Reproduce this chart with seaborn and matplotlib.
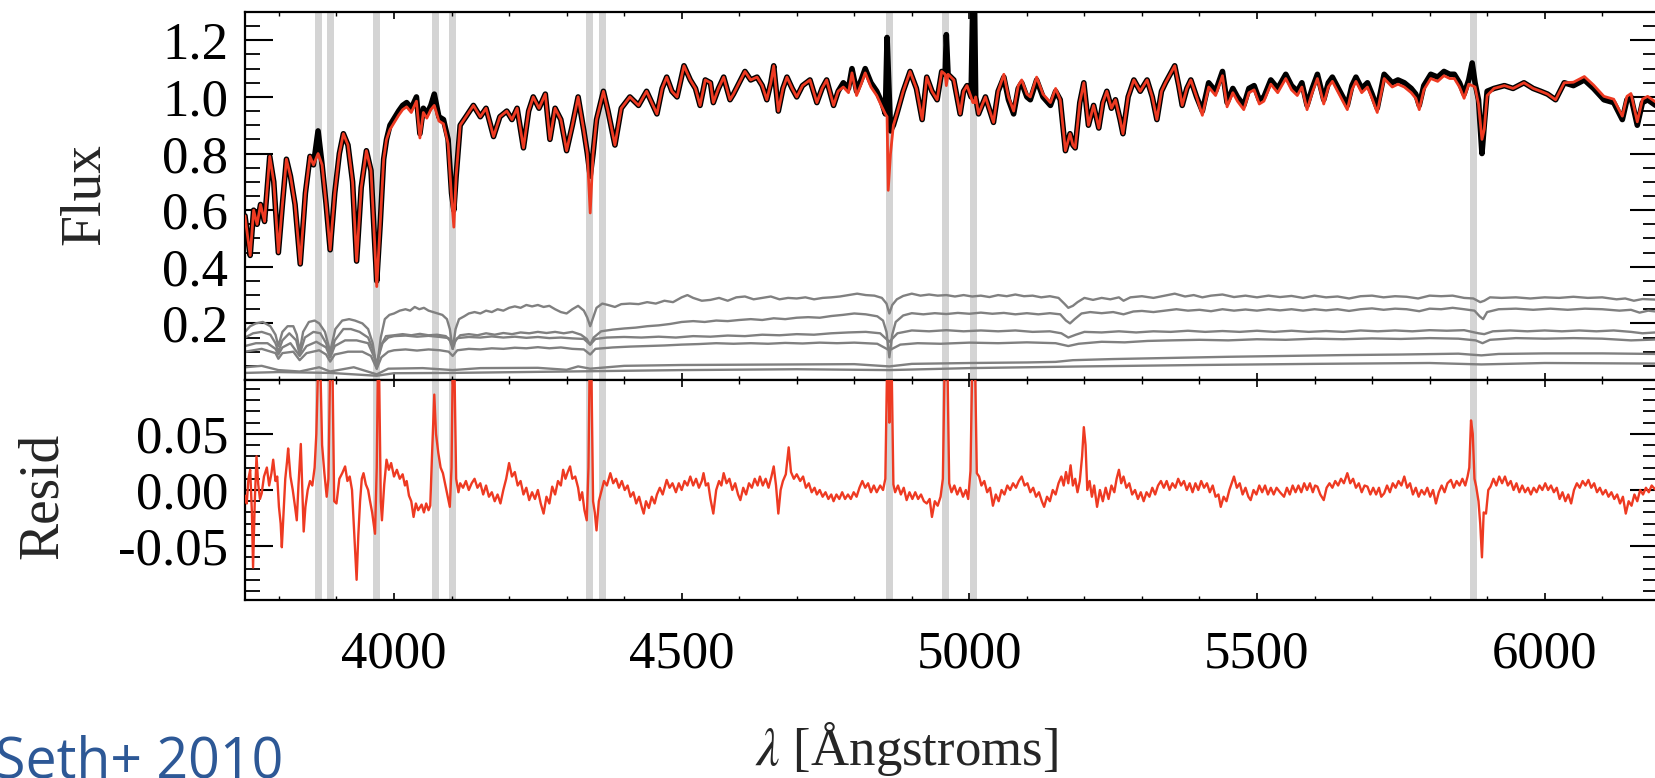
import numpy as np
import pandas as pd
import matplotlib
matplotlib.use("Agg")
import matplotlib.pyplot as plt
import seaborn as sns
from matplotlib.ticker import MultipleLocator, FixedLocator, FuncFormatter

sns.set_theme(style="white")
plt.rcParams['font.family'] = ['Liberation Serif', 'DejaVu Serif']
plt.rcParams['mathtext.fontset'] = 'stix'

# ---------------- data ----------------
# observed spectrum (black)
data_wl = [3741, 3746, 3750, 3756, 3762, 3768, 3775, 3784, 3791, 3799, 3806, 3813, 3820, 3828,
           3837, 3846, 3854, 3860, 3868, 3875, 3882, 3889, 3897, 3905, 3912, 3920, 3928, 3935,
           3943, 3952, 3960, 3966, 3970, 3976, 3982, 3987, 3993, 3999, 4008, 4015, 4022, 4030,
           4039, 4045, 4051, 4057, 4064, 4070, 4078, 4086, 4094, 4100, 4104, 4108, 4115, 4125,
           4138, 4150, 4160, 4173, 4184, 4196, 4205, 4214, 4225, 4234, 4242, 4252, 4263, 4271,
           4280, 4290, 4300, 4310, 4320, 4330, 4336, 4341, 4346, 4352, 4364, 4372, 4384, 4395,
           4410, 4425, 4439, 4448, 4457, 4466, 4474, 4483, 4492, 4504, 4515, 4524, 4532, 4541,
           4550, 4555, 4564, 4573, 4584, 4590, 4600, 4610, 4620, 4631, 4640, 4648, 4655, 4660,
           4668, 4676, 4683, 4692, 4700, 4710, 4723, 4735, 4744, 4752, 4764, 4772, 4781, 4790,
           4796, 4804, 4812, 4819, 4829, 4839, 4848, 4854, 4857, 4859, 4863, 4868, 4874, 4885,
           4897, 4908, 4918, 4926, 4935, 4944, 4952, 4958, 4960, 4963, 4973, 4984, 4990, 4996,
           5003, 5006, 5009, 5011, 5016, 5028, 5042, 5050, 5060, 5068, 5077, 5085, 5091, 5100,
           5106, 5117, 5128, 5141, 5150, 5158, 5167, 5175, 5180, 5184, 5192, 5199, 5207, 5216,
           5225, 5232, 5239, 5247, 5254, 5262, 5267, 5276, 5286, 5297, 5309, 5318, 5326, 5334,
           5341, 5357, 5364, 5370, 5378, 5385, 5395, 5405, 5416, 5428, 5440, 5448, 5458, 5466,
           5477, 5486, 5495, 5504, 5512, 5524, 5536, 5550, 5560, 5570, 5578, 5587, 5596, 5605,
           5616, 5624, 5631, 5644, 5657, 5665, 5672, 5682, 5692, 5700, 5709, 5721, 5735, 5745,
           5756, 5768, 5776, 5782, 5790, 5802, 5814, 5825, 5835, 5843, 5852, 5860, 5868, 5874,
           5879, 5885, 5891, 5895, 5900, 5912, 5930, 5945, 5964, 5980, 5993, 6005, 6019, 6034,
           6050, 6069, 6085, 6103, 6120, 6135, 6143, 6150, 6161, 6170, 6179, 6193]
data_flux = [0.58, 0.50, 0.44, 0.60, 0.55, 0.62, 0.56, 0.79, 0.70, 0.45, 0.62, 0.78, 0.72, 0.62,
             0.41, 0.66, 0.79, 0.76, 0.88, 0.76, 0.62, 0.46, 0.66, 0.80, 0.87, 0.83, 0.70, 0.42,
             0.68, 0.81, 0.74, 0.50, 0.35, 0.55, 0.78, 0.85, 0.90, 0.92, 0.95, 0.97, 0.98, 0.96,
             1.00, 0.87, 0.96, 0.94, 0.97, 1.01, 0.93, 0.92, 0.85, 0.66, 0.60, 0.72, 0.90, 0.93,
             0.97, 0.93, 0.96, 0.86, 0.93, 0.95, 0.92, 0.96, 0.82, 0.95, 1.00, 0.96, 1.01, 0.85,
             0.96, 0.92, 0.81, 0.90, 1.00, 0.88, 0.80, 0.72, 0.80, 0.92, 1.02, 0.95, 0.83, 0.96,
             1.00, 0.97, 1.02, 0.98, 0.94, 1.03, 1.07, 1.02, 1.00, 1.11, 1.06, 1.03, 0.97, 1.06,
             1.05, 0.98, 1.03, 1.07, 0.99, 1.01, 1.05, 1.09, 1.06, 1.07, 1.04, 0.99, 1.05, 1.11,
             0.95, 1.03, 1.07, 1.03, 1.00, 1.04, 1.06, 0.98, 1.03, 1.06, 0.97, 1.02, 1.05, 1.03,
             1.10, 1.02, 1.06, 1.10, 1.05, 1.02, 0.98, 0.94, 1.21, 1.10, 0.88, 0.90, 0.94, 1.02,
             1.09, 1.03, 0.92, 1.07, 1.02, 0.99, 1.09, 1.08, 1.22, 1.08, 1.06, 0.94, 1.02, 1.04,
             1.00, 1.34, 1.34, 1.00, 0.94, 1.00, 0.91, 1.02, 1.07, 0.99, 0.94, 1.03, 1.05, 1.00,
             0.99, 1.06, 1.00, 0.97, 1.02, 0.99, 0.81, 0.87, 0.83, 0.82, 0.98, 1.05, 0.90, 0.97,
             0.89, 0.98, 1.02, 0.96, 0.99, 0.92, 0.87, 1.00, 1.06, 1.02, 1.06, 1.00, 0.92, 1.02,
             1.05, 1.11, 1.04, 0.97, 1.03, 1.06, 1.00, 0.95, 1.05, 1.02, 1.09, 0.98, 1.03, 1.00,
             0.97, 1.03, 1.04, 0.99, 1.00, 1.06, 1.03, 1.08, 1.04, 1.02, 1.05, 0.97, 1.03, 1.08,
             0.99, 1.05, 1.07, 1.02, 0.97, 1.04, 1.07, 1.03, 1.05, 1.01, 0.96, 1.08, 1.05, 1.06,
             1.05, 1.03, 1.01, 0.97, 1.04, 1.08, 1.07, 1.09, 1.08, 1.08, 1.05, 1.01, 1.06, 1.12,
             1.05, 0.99, 0.80, 0.90, 1.02, 1.03, 1.04, 1.03, 1.05, 1.03, 1.02, 1.01, 0.99, 1.05,
             1.04, 1.06, 1.03, 0.99, 0.98, 0.92, 0.99, 1.00, 0.90, 0.98, 0.99, 0.97]

# best-fit model (red): same as data except where the picture shows them apart
model_diff_wl = [3868, 3970, 4070, 4104, 4341, 4857, 4859, 4863, 4960, 5006, 5009, 5874, 5891]
model_diff_flux = [0.80, 0.33, 0.97, 0.54, 0.59, 0.93, 0.67, 0.80, 1.04, 0.98, 0.98, 1.04, 0.85]
# stretches where the red model sits visibly below (-) or above (+) the black data
model_offset_start = [3990, 4780, 5060, 5400, 6040]
model_offset_end = [4100, 4850, 5150, 5900, 6193]
model_offset_value = [-0.015, -0.015, 0.010, -0.015, 0.012]

# template components (grey)
comp1_wl = [3741, 3750, 3760, 3772, 3785, 3794, 3799, 3806, 3815, 3825, 3831, 3836, 3842, 3852,
            3862, 3870, 3880, 3889, 3898, 3910, 3922, 3932, 3945, 3955, 3963, 3970, 3977, 3984,
            3992, 4000, 4010, 4020, 4028, 4036, 4044, 4052, 4060, 4068, 4076, 4084, 4092, 4097,
            4102, 4107, 4113, 4122, 4130, 4140, 4150, 4160, 4170, 4180, 4190, 4200, 4210, 4220,
            4230, 4240, 4250, 4260, 4270, 4280, 4290, 4300, 4310, 4320, 4330, 4336, 4341, 4346,
            4352, 4362, 4372, 4384, 4395, 4410, 4425, 4440, 4455, 4470, 4485, 4500, 4510, 4520,
            4535, 4550, 4565, 4580, 4595, 4610, 4625, 4640, 4655, 4670, 4685, 4700, 4715, 4730,
            4745, 4760, 4775, 4790, 4805, 4820, 4835, 4848, 4856, 4861, 4866, 4874, 4885, 4900,
            4915, 4930, 4945, 4960, 4975, 4990, 5005, 5020, 5035, 5050, 5065, 5080, 5095, 5110,
            5125, 5140, 5155, 5165, 5172, 5180, 5188, 5200, 5215, 5230, 5245, 5260, 5268, 5280,
            5300, 5320, 5340, 5357, 5375, 5390, 5405, 5420, 5440, 5460, 5480, 5500, 5520, 5540,
            5560, 5580, 5600, 5620, 5640, 5660, 5680, 5700, 5720, 5740, 5760, 5780, 5800, 5820,
            5840, 5860, 5876, 5888, 5895, 5905, 5925, 5950, 5975, 6000, 6025, 6050, 6075, 6100,
            6125, 6140, 6155, 6170, 6193]
comp1_flux = [0.17, 0.19, 0.20, 0.205, 0.19, 0.16, 0.12, 0.17, 0.19, 0.19, 0.16, 0.10, 0.17, 0.205,
              0.21, 0.20, 0.17, 0.10, 0.18, 0.21, 0.215, 0.21, 0.20, 0.18, 0.13, 0.04, 0.15, 0.215,
              0.23, 0.235, 0.245, 0.25, 0.245, 0.258, 0.25, 0.255, 0.245, 0.24, 0.235, 0.23, 0.215, 0.18,
              0.11, 0.18, 0.215, 0.225, 0.235, 0.24, 0.235, 0.245, 0.24, 0.25, 0.245, 0.255, 0.26, 0.255,
              0.265, 0.26, 0.265, 0.258, 0.262, 0.25, 0.24, 0.235, 0.25, 0.262, 0.245, 0.22, 0.19, 0.22,
              0.255, 0.27, 0.265, 0.258, 0.268, 0.27, 0.268, 0.275, 0.27, 0.28, 0.275, 0.292, 0.30, 0.29,
              0.28, 0.283, 0.29, 0.28, 0.292, 0.295, 0.285, 0.29, 0.295, 0.285, 0.29, 0.288, 0.292, 0.285,
              0.29, 0.292, 0.295, 0.30, 0.305, 0.30, 0.298, 0.29, 0.27, 0.235, 0.265, 0.285, 0.297, 0.305,
              0.298, 0.302, 0.298, 0.30, 0.295, 0.30, 0.295, 0.298, 0.293, 0.30, 0.296, 0.302, 0.296, 0.298,
              0.292, 0.296, 0.29, 0.27, 0.255, 0.262, 0.275, 0.29, 0.283, 0.29, 0.285, 0.292, 0.28, 0.292,
              0.296, 0.29, 0.298, 0.305, 0.295, 0.30, 0.292, 0.298, 0.302, 0.293, 0.298, 0.292, 0.298, 0.293,
              0.297, 0.29, 0.298, 0.292, 0.295, 0.288, 0.296, 0.298, 0.292, 0.296, 0.294, 0.288, 0.298, 0.296,
              0.298, 0.29, 0.288, 0.275, 0.28, 0.292, 0.29, 0.292, 0.288, 0.292, 0.29, 0.294, 0.29, 0.292,
              0.285, 0.288, 0.28, 0.286, 0.284]
comp2_wl = [3741, 3755, 3770, 3785, 3794, 3799, 3806, 3818, 3830, 3836, 3845, 3860, 3872, 3882,
            3889, 3897, 3912, 3925, 3940, 3955, 3963, 3970, 3977, 3986, 4000, 4015, 4030, 4045,
            4060, 4075, 4090, 4097, 4102, 4107, 4115, 4130, 4145, 4160, 4175, 4190, 4205, 4220,
            4235, 4250, 4265, 4280, 4295, 4310, 4325, 4335, 4341, 4347, 4360, 4380, 4400, 4420,
            4440, 4460, 4480, 4500, 4520, 4540, 4560, 4580, 4600, 4620, 4640, 4660, 4680, 4700,
            4720, 4740, 4760, 4780, 4800, 4820, 4840, 4850, 4856, 4861, 4866, 4872, 4885, 4900,
            4920, 4940, 4960, 4980, 5000, 5020, 5040, 5060, 5080, 5100, 5120, 5140, 5158, 5168,
            5175, 5183, 5195, 5210, 5230, 5250, 5268, 5285, 5300, 5320, 5340, 5360, 5380, 5400,
            5420, 5440, 5460, 5480, 5500, 5520, 5540, 5560, 5580, 5600, 5620, 5640, 5660, 5680,
            5700, 5720, 5740, 5760, 5782, 5800, 5820, 5840, 5860, 5878, 5887, 5893, 5900, 5920,
            5950, 5980, 6010, 6040, 6070, 6100, 6130, 6150, 6165, 6180, 6193]
comp2_flux = [0.15, 0.165, 0.17, 0.16, 0.13, 0.10, 0.14, 0.165, 0.14, 0.09, 0.15, 0.17, 0.165, 0.13,
              0.08, 0.14, 0.18, 0.18, 0.17, 0.15, 0.11, 0.05, 0.12, 0.155, 0.158, 0.162, 0.158, 0.163,
              0.158, 0.16, 0.155, 0.14, 0.11, 0.14, 0.158, 0.162, 0.158, 0.165, 0.16, 0.166, 0.162, 0.168,
              0.165, 0.17, 0.166, 0.17, 0.165, 0.17, 0.16, 0.145, 0.125, 0.15, 0.172, 0.178, 0.182, 0.185,
              0.19, 0.193, 0.198, 0.205, 0.208, 0.205, 0.21, 0.208, 0.212, 0.215, 0.212, 0.218, 0.215, 0.22,
              0.222, 0.22, 0.226, 0.23, 0.235, 0.232, 0.225, 0.21, 0.17, 0.08, 0.16, 0.205, 0.228, 0.236,
              0.232, 0.236, 0.233, 0.237, 0.234, 0.238, 0.234, 0.237, 0.232, 0.236, 0.232, 0.236, 0.232, 0.21,
              0.20, 0.215, 0.235, 0.24, 0.236, 0.24, 0.232, 0.242, 0.244, 0.24, 0.245, 0.25, 0.245, 0.248,
              0.243, 0.25, 0.245, 0.249, 0.245, 0.25, 0.246, 0.25, 0.245, 0.25, 0.246, 0.25, 0.244, 0.25,
              0.253, 0.248, 0.252, 0.25, 0.243, 0.252, 0.25, 0.255, 0.25, 0.245, 0.225, 0.215, 0.24, 0.25,
              0.252, 0.248, 0.252, 0.248, 0.252, 0.25, 0.245, 0.248, 0.238, 0.245, 0.242]
comp3_wl = [3741, 3760, 3780, 3794, 3799, 3806, 3820, 3836, 3848, 3865, 3882, 3889, 3897, 3915,
            3935, 3955, 3970, 3980, 3990, 4000, 4020, 4040, 4060, 4080, 4095, 4102, 4110, 4130,
            4150, 4170, 4190, 4210, 4230, 4250, 4270, 4290, 4310, 4330, 4341, 4350, 4370, 4400,
            4430, 4460, 4490, 4520, 4550, 4580, 4610, 4640, 4670, 4700, 4730, 4760, 4790, 4820,
            4845, 4861, 4875, 4900, 4930, 4960, 4990, 5020, 5050, 5080, 5110, 5140, 5160, 5172,
            5185, 5200, 5230, 5260, 5290, 5320, 5350, 5380, 5410, 5440, 5470, 5500, 5530, 5560,
            5590, 5620, 5650, 5680, 5710, 5740, 5770, 5800, 5830, 5860, 5885, 5895, 5910, 5940,
            5970, 6000, 6030, 6060, 6090, 6120, 6150, 6170, 6193]
comp3_flux = [0.12, 0.13, 0.13, 0.11, 0.09, 0.115, 0.13, 0.085, 0.12, 0.135, 0.115, 0.08, 0.12, 0.14,
              0.14, 0.13, 0.06, 0.13, 0.15, 0.155, 0.157, 0.153, 0.156, 0.152, 0.148, 0.125, 0.148, 0.152,
              0.15, 0.154, 0.15, 0.153, 0.149, 0.152, 0.148, 0.15, 0.147, 0.145, 0.125, 0.145, 0.15, 0.152,
              0.15, 0.153, 0.15, 0.155, 0.153, 0.157, 0.155, 0.16, 0.158, 0.162, 0.16, 0.165, 0.168, 0.17,
              0.165, 0.135, 0.165, 0.175, 0.172, 0.176, 0.172, 0.175, 0.172, 0.175, 0.17, 0.172, 0.165, 0.15,
              0.16, 0.17, 0.168, 0.172, 0.168, 0.172, 0.17, 0.174, 0.17, 0.173, 0.17, 0.174, 0.17, 0.174,
              0.17, 0.173, 0.17, 0.175, 0.172, 0.175, 0.172, 0.176, 0.174, 0.176, 0.165, 0.162, 0.172, 0.175,
              0.172, 0.175, 0.172, 0.175, 0.172, 0.175, 0.17, 0.165, 0.168]
comp4_wl = [3741, 3770, 3794, 3799, 3806, 3825, 3836, 3848, 3870, 3882, 3889, 3897, 3920, 3945,
            3960, 3970, 3978, 3990, 4000, 4020, 4040, 4060, 4080, 4095, 4102, 4110, 4130, 4150,
            4170, 4190, 4210, 4230, 4250, 4270, 4290, 4310, 4330, 4341, 4350, 4380, 4410, 4440,
            4470, 4500, 4530, 4560, 4590, 4620, 4650, 4680, 4710, 4740, 4770, 4800, 4840, 4861,
            4880, 4910, 4950, 5000, 5050, 5100, 5150, 5172, 5190, 5230, 5270, 5310, 5350, 5400,
            5450, 5500, 5550, 5600, 5650, 5700, 5750, 5800, 5850, 5880, 5892, 5905, 5950, 6000,
            6050, 6100, 6150, 6193]
comp4_flux = [0.10, 0.11, 0.095, 0.075, 0.095, 0.10, 0.07, 0.095, 0.105, 0.09, 0.065, 0.09, 0.10, 0.10,
              0.085, 0.04, 0.08, 0.10, 0.105, 0.108, 0.104, 0.108, 0.105, 0.10, 0.085, 0.105, 0.11, 0.108,
              0.112, 0.11, 0.114, 0.112, 0.116, 0.112, 0.115, 0.11, 0.108, 0.09, 0.11, 0.115, 0.118, 0.12,
              0.122, 0.125, 0.127, 0.13, 0.128, 0.13, 0.128, 0.131, 0.129, 0.132, 0.13, 0.132, 0.128, 0.105,
              0.125, 0.13, 0.128, 0.132, 0.13, 0.133, 0.13, 0.12, 0.128, 0.135, 0.133, 0.138, 0.14, 0.142,
              0.14, 0.144, 0.142, 0.146, 0.144, 0.147, 0.145, 0.148, 0.146, 0.14, 0.13, 0.142, 0.148, 0.146,
              0.148, 0.146, 0.14, 0.143]
comp5_wl = [3741, 3770, 3799, 3836, 3870, 3889, 3930, 3970, 3990, 4050, 4102, 4150, 4250, 4300,
            4320, 4341, 4400, 4500, 4600, 4700, 4800, 4861, 4900, 5000, 5100, 5150, 5180, 5250,
            5350, 5450, 5550, 5650, 5750, 5850, 5890, 5920, 6000, 6100, 6193]
comp5_flux = [0.045, 0.05, 0.035, 0.03, 0.045, 0.03, 0.045, 0.02, 0.04, 0.042, 0.035, 0.042, 0.043, 0.036,
              0.048, 0.04, 0.05, 0.053, 0.054, 0.055, 0.056, 0.048, 0.057, 0.06, 0.062, 0.064, 0.07, 0.074,
              0.078, 0.082, 0.085, 0.088, 0.09, 0.093, 0.087, 0.092, 0.094, 0.094, 0.092]
comp6_wl = [3741, 3800, 3889, 3970, 4000, 4100, 4300, 4500, 4700, 4861, 5000, 5200, 5400, 5600,
            5800, 5890, 6000, 6193]
comp6_flux = [0.025, 0.028, 0.025, 0.015, 0.024, 0.025, 0.03, 0.035, 0.038, 0.035, 0.042, 0.048, 0.053, 0.057,
              0.06, 0.055, 0.06, 0.058]

# residuals (red, lower panel) as (wavelength, residual) pairs
resid_pts = [
    (3741, -0.005), (3744, -0.012), (3747, 0.010), (3750, 0.018), (3753, -0.020), (3755, -0.069),
    (3758, -0.010), (3761, 0.030), (3764, 0.005), (3767, -0.008), (3770, -0.003), (3774, 0.012),
    (3779, 0.020), (3783, 0.004), (3787, 0.015), (3790, 0.027), (3794, 0.008), (3797, 0.012),
    (3800, -0.015), (3803, -0.030), (3805, -0.051), (3808, -0.020), (3811, 0.010), (3814, 0.025),
    (3816, 0.037), (3820, 0.012), (3824, 0.000), (3828, -0.015), (3831, -0.027), (3834, 0.005),
    (3838, 0.041), (3840, 0.010), (3843, -0.037), (3846, -0.015), (3850, 0.000), (3854, 0.008),
    (3858, 0.004), (3862, 0.020), (3865, 0.050), (3868, 0.110), (3872, 0.110), (3875, 0.040),
    (3879, 0.015), (3883, -0.006), (3886, 0.010), (3889, 0.110), (3893, 0.110), (3896, -0.010),
    (3900, -0.012), (3905, 0.010), (3910, 0.015), (3915, 0.021), (3919, 0.008), (3923, 0.012),
    (3927, 0.000), (3930, -0.030), (3933, -0.060), (3935, -0.080), (3938, -0.040), (3941, -0.010),
    (3944, 0.010), (3947, 0.015), (3951, 0.005), (3955, 0.000), (3958, -0.009), (3962, -0.020),
    (3967, -0.039), (3970, 0.020), (3972, 0.110), (3974, 0.110), (3977, -0.010), (3979, -0.027),
    (3983, 0.005), (3987, 0.027), (3991, 0.018), (3995, 0.024), (4000, 0.012), (4005, 0.018),
    (4010, 0.010), (4015, 0.014), (4019, 0.004), (4022, 0.008), (4026, -0.005), (4030, -0.010),
    (4034, -0.024), (4038, -0.012), (4042, -0.018), (4048, -0.013), (4052, -0.020), (4056, -0.012),
    (4060, -0.018), (4063, -0.014), (4066, 0.030), (4070, 0.085), (4073, 0.050), (4077, 0.033),
    (4081, 0.020), (4085, 0.015), (4089, 0.005), (4093, -0.005), (4097, -0.015), (4100, 0.020),
    (4102, 0.110), (4105, 0.110), (4108, 0.010), (4112, -0.002), (4115, 0.006), (4120, 0.002),
    (4125, 0.008), (4130, 0.000), (4135, 0.006), (4140, 0.010), (4145, 0.002), (4150, 0.006),
    (4155, -0.004), (4160, 0.004), (4165, -0.006), (4170, -0.002), (4175, -0.010), (4180, -0.004),
    (4185, -0.012), (4190, 0.000), (4195, 0.010), (4200, 0.024), (4205, 0.012), (4210, 0.016),
    (4215, 0.004), (4220, 0.008), (4225, -0.004), (4230, 0.002), (4235, -0.009), (4240, -0.002),
    (4245, -0.008), (4250, 0.000), (4255, -0.012), (4260, -0.021), (4265, -0.006), (4270, -0.012),
    (4275, 0.003), (4280, -0.004), (4285, 0.008), (4290, 0.004), (4294, 0.018), (4298, 0.010),
    (4302, 0.016), (4306, 0.021), (4310, 0.010), (4315, 0.012), (4320, 0.002), (4323, -0.009),
    (4327, -0.002), (4331, -0.018), (4335, -0.027), (4338, 0.020), (4340, 0.110), (4343, 0.110),
    (4346, -0.010), (4349, -0.020), (4352, -0.036), (4356, -0.010), (4360, -0.002), (4365, 0.008),
    (4370, 0.004), (4376, 0.015), (4381, 0.006), (4386, 0.010), (4391, 0.002), (4396, 0.008),
    (4401, 0.000), (4406, 0.004), (4411, -0.006), (4416, -0.002), (4421, -0.012), (4426, -0.006),
    (4431, -0.016), (4434, -0.021), (4438, -0.010), (4443, -0.016), (4448, -0.006), (4453, -0.012),
    (4457, -0.004), (4462, 0.002), (4467, -0.004), (4474, 0.009), (4479, 0.002), (4484, 0.006),
    (4490, -0.002), (4495, 0.006), (4500, 0.000), (4505, 0.008), (4510, 0.004), (4515, 0.012),
    (4520, 0.004), (4525, 0.010), (4530, 0.002), (4535, 0.008), (4538, 0.015), (4542, 0.004),
    (4546, 0.006), (4550, -0.008), (4555, -0.021), (4560, 0.000), (4565, 0.008), (4569, 0.004),
    (4573, 0.015), (4578, 0.006), (4583, 0.010), (4588, 0.000), (4593, 0.006), (4598, -0.004),
    (4602, -0.009), (4607, 0.002), (4612, -0.004), (4617, 0.006), (4622, 0.002), (4627, 0.010),
    (4632, 0.004), (4636, 0.012), (4641, 0.004), (4646, 0.010), (4651, 0.002), (4656, 0.012),
    (4660, 0.021), (4664, 0.004), (4668, -0.021), (4672, 0.000), (4676, 0.008), (4681, 0.014),
    (4686, 0.038), (4690, 0.016), (4695, 0.010), (4700, 0.014), (4706, 0.008), (4711, 0.012),
    (4716, 0.002), (4721, 0.006), (4726, -0.002), (4731, 0.002), (4735, -0.004), (4740, 0.000),
    (4745, -0.006), (4750, -0.002), (4755, -0.008), (4760, -0.004), (4764, -0.010), (4769, -0.004),
    (4774, -0.008), (4779, -0.002), (4784, -0.008), (4789, -0.004), (4794, -0.008), (4799, -0.002),
    (4804, -0.006), (4809, 0.002), (4814, 0.008), (4819, 0.002), (4824, 0.006), (4829, -0.002),
    (4834, 0.004), (4839, -0.002), (4845, 0.004), (4850, 0.000), (4854, 0.010), (4857, 0.110),
    (4859, 0.110), (4861, 0.060), (4863, 0.110), (4865, 0.110), (4868, 0.005), (4871, -0.002),
    (4876, 0.004), (4881, -0.004), (4886, 0.002), (4891, -0.009), (4896, -0.002), (4901, -0.008),
    (4906, -0.002), (4911, -0.008), (4916, -0.004), (4921, -0.010), (4926, -0.012), (4931, -0.008),
    (4935, -0.024), (4940, -0.010), (4945, -0.014), (4950, -0.006), (4954, 0.010), (4957, 0.110),
    (4962, 0.110), (4965, 0.006), (4969, -0.002), (4974, 0.004), (4979, -0.004), (4984, 0.002),
    (4989, -0.006), (4994, 0.000), (4998, -0.008), (5002, 0.017), (5005, 0.110), (5010, 0.110),
    (5013, 0.015), (5017, 0.012), (5021, 0.004), (5026, 0.008), (5031, -0.002), (5036, 0.002),
    (5041, -0.014), (5046, -0.004), (5051, -0.010), (5056, 0.000), (5061, -0.004), (5066, 0.004),
    (5071, 0.000), (5076, 0.006), (5081, 0.002), (5086, 0.008), (5091, 0.012), (5096, 0.004),
    (5101, 0.006), (5106, -0.002), (5111, 0.002), (5116, -0.006), (5121, -0.002), (5126, -0.010),
    (5130, -0.015), (5135, -0.006), (5140, -0.010), (5145, 0.000), (5150, -0.004), (5155, 0.006),
    (5160, 0.012), (5164, 0.004), (5168, 0.016), (5172, 0.006), (5176, 0.022), (5180, 0.004),
    (5184, 0.010), (5188, -0.002), (5192, 0.008), (5196, 0.030), (5199, 0.056), (5202, 0.040),
    (5205, 0.000), (5209, 0.008), (5213, -0.006), (5217, 0.004), (5222, -0.015), (5227, 0.000),
    (5232, -0.010), (5237, 0.002), (5242, -0.008), (5247, 0.004), (5252, -0.002), (5256, 0.010),
    (5260, 0.018), (5264, 0.006), (5268, 0.012), (5273, 0.002), (5278, 0.006), (5283, -0.004),
    (5288, 0.000), (5293, -0.008), (5298, -0.002), (5303, -0.010), (5308, -0.002), (5313, -0.006),
    (5318, 0.002), (5323, -0.004), (5328, 0.004), (5333, 0.008), (5338, 0.002), (5343, 0.008),
    (5348, 0.000), (5353, 0.006), (5358, 0.002), (5363, 0.010), (5368, 0.004), (5373, 0.008),
    (5378, 0.000), (5383, 0.006), (5388, -0.002), (5393, 0.006), (5398, 0.000), (5403, 0.008),
    (5408, 0.002), (5413, 0.006), (5418, -0.002), (5423, 0.004), (5428, -0.006), (5433, -0.004),
    (5437, -0.015), (5442, -0.006), (5447, -0.010), (5452, 0.000), (5456, 0.006), (5460, 0.012),
    (5465, 0.002), (5470, 0.006), (5475, -0.004), (5480, 0.002), (5485, -0.006), (5489, -0.009),
    (5494, 0.000), (5499, -0.004), (5504, 0.004), (5509, -0.002), (5514, 0.004), (5519, -0.004),
    (5524, 0.002), (5529, -0.004), (5534, 0.002), (5540, -0.002), (5547, -0.006), (5552, 0.002),
    (5557, -0.004), (5562, 0.004), (5567, -0.002), (5572, 0.004), (5577, -0.002), (5582, 0.006),
    (5587, 0.000), (5592, 0.006), (5597, -0.002), (5601, 0.004), (5605, 0.003), (5610, -0.004),
    (5616, -0.009), (5621, 0.002), (5626, 0.006), (5631, 0.002), (5636, 0.008), (5641, 0.004),
    (5646, 0.010), (5651, 0.006), (5657, 0.015), (5662, 0.006), (5667, 0.010), (5672, 0.002),
    (5677, 0.006), (5682, -0.002), (5687, 0.004), (5692, 0.003), (5697, -0.004), (5702, 0.002),
    (5707, -0.004), (5712, 0.002), (5716, -0.006), (5721, -0.003), (5726, 0.004), (5731, -0.002),
    (5736, 0.006), (5741, 0.002), (5746, 0.008), (5751, 0.004), (5756, 0.012), (5761, 0.002),
    (5766, 0.006), (5771, -0.004), (5776, 0.002), (5781, -0.006), (5786, 0.000), (5791, -0.004),
    (5796, 0.002), (5801, -0.006), (5806, 0.000), (5811, -0.012), (5816, -0.002), (5821, 0.004),
    (5826, -0.002), (5831, 0.006), (5837, 0.009), (5842, 0.002), (5847, 0.008), (5852, 0.004),
    (5857, 0.010), (5862, 0.004), (5866, 0.012), (5869, 0.020), (5872, 0.062), (5875, 0.050),
    (5878, 0.010), (5881, 0.003), (5885, -0.010), (5888, -0.030), (5891, -0.060), (5894, -0.020),
    (5898, -0.021), (5902, 0.000), (5906, 0.003), (5911, 0.010), (5916, 0.004), (5921, 0.012),
    (5926, 0.006), (5931, 0.012), (5936, 0.004), (5941, 0.008), (5946, 0.000), (5951, 0.006),
    (5956, -0.002), (5961, 0.004), (5966, -0.002), (5971, 0.002), (5976, -0.004), (5981, 0.002),
    (5986, -0.002), (5991, 0.004), (5996, 0.000), (6001, 0.006), (6006, 0.000), (6011, 0.004),
    (6016, -0.002), (6021, 0.002), (6026, -0.008), (6031, -0.002), (6036, -0.010), (6041, -0.004),
    (6046, -0.012), (6051, 0.000), (6056, 0.006), (6061, 0.002), (6066, 0.008), (6071, 0.004),
    (6076, 0.009), (6081, 0.002), (6086, 0.006), (6091, -0.002), (6096, 0.002), (6101, -0.004),
    (6106, 0.000), (6111, -0.006), (6116, -0.002), (6121, -0.008), (6126, -0.004), (6131, -0.012),
    (6136, -0.006), (6141, -0.021), (6146, -0.010), (6151, -0.014), (6156, -0.004), (6161, -0.010),
    (6166, 0.000), (6171, -0.004), (6176, 0.002), (6181, -0.002), (6186, 0.004), (6193, 0.000),
]

# masked emission-line regions (grey bands)
mask_lines = [3869, 3889, 3970, 4072, 4102, 4340, 4363, 4861, 4959, 5007, 5876]

xticks = [4000, 4500, 5000, 5500, 6000]
flux_ticks = [0.2, 0.4, 0.6, 0.8, 1.0, 1.2]
resid_ticks = [-0.05, 0.0, 0.05]

# ---------------- build tables ----------------
spec = pd.DataFrame({"wl": data_wl, "flux": data_flux})
mod_lookup = dict(zip(model_diff_wl, model_diff_flux))
model_vals = []
for w, f in zip(data_wl, data_flux):
    v = mod_lookup.get(w, f)
    if w not in mod_lookup:
        for a, b, off in zip(model_offset_start, model_offset_end, model_offset_value):
            if a <= w <= b:
                v = f + off
    model_vals.append(v)
model = pd.DataFrame({"wl": data_wl, "flux": model_vals})
comps = [(comp1_wl, comp1_flux), (comp2_wl, comp2_flux), (comp3_wl, comp3_flux),
         (comp4_wl, comp4_flux), (comp5_wl, comp5_flux), (comp6_wl, comp6_flux)]
resid = pd.DataFrame(resid_pts, columns=["wl", "r"])

# ---------------- figure ----------------
W, H = 1655, 778
fig = plt.figure(figsize=(W / 100, H / 100), dpi=100)
fig.patch.set_facecolor("white")
left = 245 / W
width = (1658 - 245) / W
ax1 = fig.add_axes([left, 1 - 380 / H, width, (380 - 12) / H])
ax2 = fig.add_axes([left, 1 - 600 / H, width, (600 - 380) / H])

xlim = (3741, 6197)
band_col = "#d4d4d4"
red = "#ee3a22"
for ax in (ax1, ax2):
    ax.set_facecolor("white")
    for lw_ in mask_lines:
        ax.axvspan(lw_ - 6, lw_ + 6, color=band_col, lw=0, zorder=0)

for wl, fl in comps:
    sns.lineplot(x=wl, y=fl, ax=ax1, color="#808080", linewidth=1.7, estimator=None,
                 sort=False, legend=False, zorder=2)
sns.lineplot(data=spec, x="wl", y="flux", ax=ax1, color="black", linewidth=4.0,
             estimator=None, sort=False, legend=False, zorder=3)
sns.lineplot(data=model, x="wl", y="flux", ax=ax1, color=red, linewidth=2.0,
             estimator=None, sort=False, legend=False, zorder=4)
sns.lineplot(data=resid, x="wl", y="r", ax=ax2, color=red, linewidth=1.7,
             estimator=None, sort=False, legend=False, zorder=4)

ax1.set_xlim(*xlim)
ax2.set_xlim(*xlim)
ax1.set_ylim(0.0, 1.3)
ax2.set_ylim(-0.098, 0.098)

tick_font = 38
for ax in (ax1, ax2):
    ax.xaxis.set_major_locator(FixedLocator(xticks))
    ax.xaxis.set_minor_locator(MultipleLocator(100))
    for s in ax.spines.values():
        s.set_color("black")
        s.set_linewidth(1.6)
    ax.tick_params(axis="x", which="major", direction="in", length=5, width=1.2,
                   top=True, bottom=True, colors="black")
    ax.tick_params(axis="x", which="minor", direction="in", length=3, width=1.0,
                   top=True, bottom=True, colors="black")
    ax.tick_params(axis="y", which="major", direction="in", length=20, width=1.5,
                   left=True, right=True, colors="black", pad=12)
    ax.tick_params(axis="y", which="minor", direction="in", length=11, width=1.3,
                   left=True, right=True, colors="black")
    ax.set_xlabel("")
    ax.set_ylabel("")
    ax.grid(False)

ax1.yaxis.set_major_locator(FixedLocator(flux_ticks))
ax1.yaxis.set_minor_locator(MultipleLocator(0.05))
ax1.yaxis.set_major_formatter(FuncFormatter(lambda v, p: f"{v:.1f}"))
ax1.tick_params(axis="x", labelbottom=False)
ax1.tick_params(axis="y", labelsize=tick_font)

ax2.yaxis.set_major_locator(FixedLocator(resid_ticks))
ax2.yaxis.set_minor_locator(MultipleLocator(0.01))
ax2.yaxis.set_major_formatter(FuncFormatter(lambda v, p: f"{v:.2f}".replace("\u2212", "-")))
ax2.tick_params(axis="both", labelsize=tick_font)
ax2.tick_params(axis="x", pad=22)

fig.text(85 / W, 1 - 194 / H, "Flux", rotation=90, ha="center", va="center", fontsize=40)
fig.text(43 / W, 1 - 496 / H, "Resid", rotation=90, ha="center", va="center", fontsize=40)
fig.text(906 / W, 1 - 765 / H, r"$\lambda$ [Ångstroms]", ha="center", va="baseline", fontsize=38)
fig.text(-5 / W, 1 / H, "Seth+ 2010", ha="left", va="baseline", fontsize=40,
         family=["Open Sans", "DejaVu Sans"], color="#2d5896")

fig.savefig("out.png", dpi=100, facecolor="white")
